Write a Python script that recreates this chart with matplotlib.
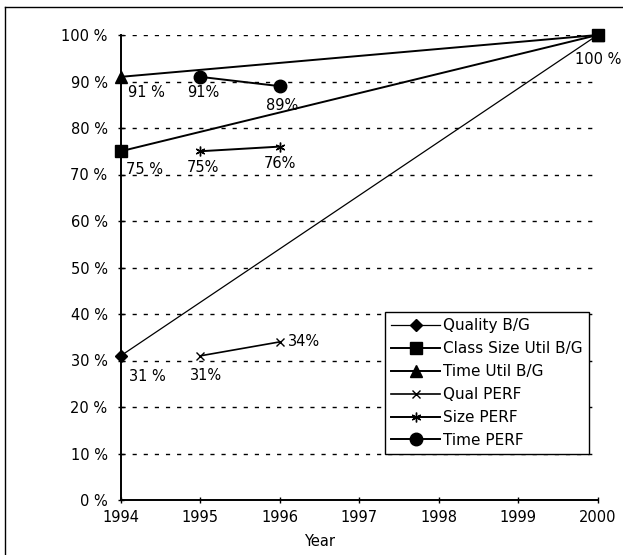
import matplotlib
matplotlib.use("Agg")
import matplotlib.pyplot as plt
from matplotlib.lines import Line2D

plt.rcParams['font.family'] = ['DejaVu Sans']

years = [1994, 1995, 1996, 1997, 1998, 1999, 2000]
ytick_vals = [0, 0.1, 0.2, 0.3, 0.4, 0.5, 0.6, 0.7, 0.8, 0.9, 1.0]
ytick_labels = ["0 %", "10 %", "20 %", "30 %", "40 %", "50 %", "60 %", "70 %", "80 %", "90 %", "100 %"]

bg_years = [1994, 2000]
quality_bg = [0.31, 1.00]
class_size_bg = [0.75, 1.00]
time_util_bg = [0.91, 1.00]

perf_years = [1995, 1996]
qual_perf = [0.31, 0.34]
size_perf = [0.75, 0.76]
time_perf = [0.91, 0.89]

fig = plt.figure(figsize=(6.23, 5.55), dpi=100)
# outer frame (only left and top edges visible in the reference)
fig.lines.append(Line2D([5/623, 5/623], [0, 1-7/555], transform=fig.transFigure, color='black', linewidth=1.0))
fig.lines.append(Line2D([5/623, 1], [1-7/555, 1-7/555], transform=fig.transFigure, color='black', linewidth=1.0))

ax = fig.add_axes([120.7/623, 1-500/555, 477/623, 465/555])
ax.set_xlim(1994, 2000)
ax.set_ylim(0, 1)
for v in ytick_vals[1:]:
    ax.plot([1994, 2000], [v, v], color='black', linestyle=(0, (3, 5)), linewidth=1.0, zorder=1)

kw = dict(color='black', clip_on=False, zorder=3)
l1, = ax.plot(bg_years, quality_bg, marker='D', markersize=6, linewidth=0.9, **kw)
l2, = ax.plot(bg_years, class_size_bg, marker='s', markersize=8, linewidth=1.4, **kw)
l3, = ax.plot(bg_years, time_util_bg, marker='^', markersize=8, linewidth=1.4, **kw)
l4, = ax.plot(perf_years, qual_perf, marker='x', markersize=6, linewidth=1.2, **kw)
l5, = ax.plot(perf_years, size_perf, marker=(6, 2, 0), markersize=7, linewidth=1.4, **kw)
l6, = ax.plot(perf_years, time_perf, marker='o', markersize=9, linewidth=1.4, **kw)

fs = 10.5
def lab(x, y, txt, dx, dy, ha='center'):
    ax.annotate(txt, (x, y), xytext=(dx, dy), textcoords='offset points', ha=ha, va='center', fontsize=fs)

lab(bg_years[0], time_util_bg[0], "91 %", 5, -11, ha='left')
lab(perf_years[0], time_perf[0], "91%", 2, -11)
lab(perf_years[1], time_perf[1], "89%", 2, -14)
lab(bg_years[0], class_size_bg[0], "75 %", 4, -13, ha='left')
lab(perf_years[0], size_perf[0], "75%", 2, -12)
lab(perf_years[1], size_perf[1], "76%", 0, -12)
lab(bg_years[0], quality_bg[0], "31 %", 6, -15, ha='left')
lab(perf_years[0], qual_perf[0], "31%", 4, -14)
lab(perf_years[1], qual_perf[1], "34%", 6, 0, ha='left')
lab(bg_years[1], class_size_bg[1], "100 %", 0, -18)

for s in ['top', 'right']:
    ax.spines[s].set_visible(False)
ax.spines['left'].set_linewidth(1.4)
ax.spines['bottom'].set_linewidth(1.4)
ax.set_xticks(years)
ax.set_xticklabels([str(y) for y in years], fontsize=fs)
ax.set_yticks(ytick_vals)
ax.set_yticklabels(ytick_labels, fontsize=fs)
ax.tick_params(direction='inout', length=5, width=1)
ax.tick_params(axis='x', pad=5)
ax.tick_params(axis='y', pad=7)
fig.text(320/623, 1-541/555, "Year", ha='center', va='center', fontsize=fs)

handles = [l1, l2, l3, l4, l5, l6]
names = ["Quality B/G", "Class Size Util B/G", "Time Util B/G", "Qual PERF", "Size PERF", "Time PERF"]
leg = ax.legend(handles, names, loc='upper left', bbox_to_anchor=(385/623, 1-312/555),
                bbox_transform=fig.transFigure, fontsize=11, frameon=True, fancybox=False,
                edgecolor='black', framealpha=1, handlelength=3.2, handletextpad=0.2,
                labelspacing=0.52, borderpad=0.4, borderaxespad=0)
leg.get_frame().set_linewidth(1.0)

fig.savefig("out.png", dpi=100)
